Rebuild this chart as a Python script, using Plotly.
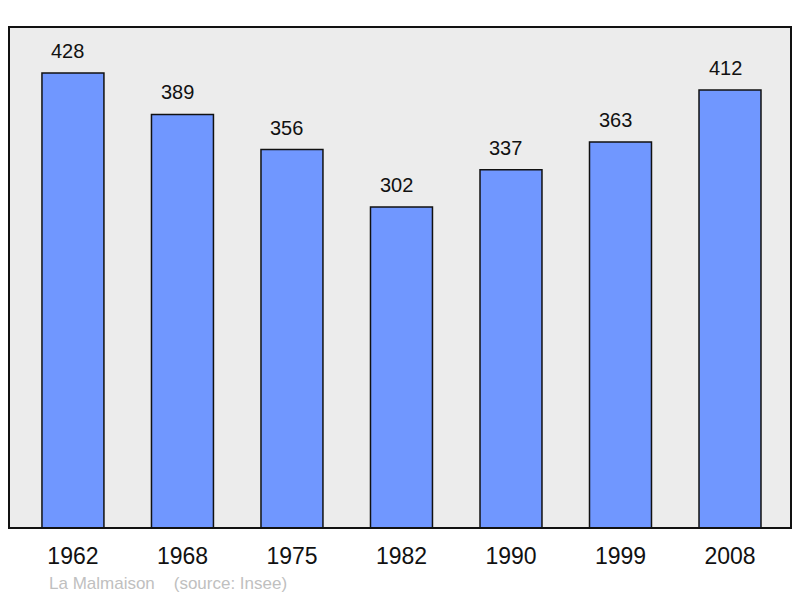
import plotly.graph_objects as go

years = ["1962", "1968", "1975", "1982", "1990", "1999", "2008"]
population = [428, 389, 356, 302, 337, 363, 412]
footer_text = "La Malmaison&nbsp;&nbsp;&nbsp;&nbsp;(source: Insee)"

FONT = "Liberation Sans, Arial, sans-serif"

fig = go.Figure()
fig.add_trace(go.Bar(
    x=years, y=population,
    marker=dict(color="#7097ff", line=dict(color="#111111", width=1.5)),
    hoverinfo="skip",
))

for i, v in enumerate(population):
    fig.add_annotation(x=i, y=v, text=str(v), showarrow=False,
                       xref="x", yref="y", yanchor="bottom", yshift=9, xshift=-5,
                       font=dict(family=FONT, size=20, color="#111111"))

fig.add_annotation(x=(47 - 9) / 782, y=-(583 - 528) / 501, xref="paper", yref="paper",
                   text=footer_text, showarrow=False, xanchor="left", yanchor="middle",
                   font=dict(family=FONT, size=17, color="#c0c0c0"))

fig.update_layout(
    width=800, height=598,
    margin=dict(l=9, r=9, t=27, b=70),
    paper_bgcolor="white", plot_bgcolor="#ececec",
    bargap=0.434,
    showlegend=False,
    xaxis=dict(type="category", range=[-0.584, 6.557], showgrid=False, zeroline=False,
               tickfont=dict(family=FONT, size=23, color="#111111"),
               ticks="", ticklabelstandoff=12, fixedrange=True),
    yaxis=dict(range=[0, 471.3], showgrid=False, zeroline=False,
               showticklabels=False, ticks="", fixedrange=True),
)

fig.add_shape(type="rect", xref="paper", yref="paper", x0=0, y0=0, x1=1, y1=1,
              line=dict(color="#111111", width=2), layer="above")

fig.write_html("out.html", config={"displayModeBar": False},
               post_script="document.body.style.margin='0';document.body.style.padding='0';")
